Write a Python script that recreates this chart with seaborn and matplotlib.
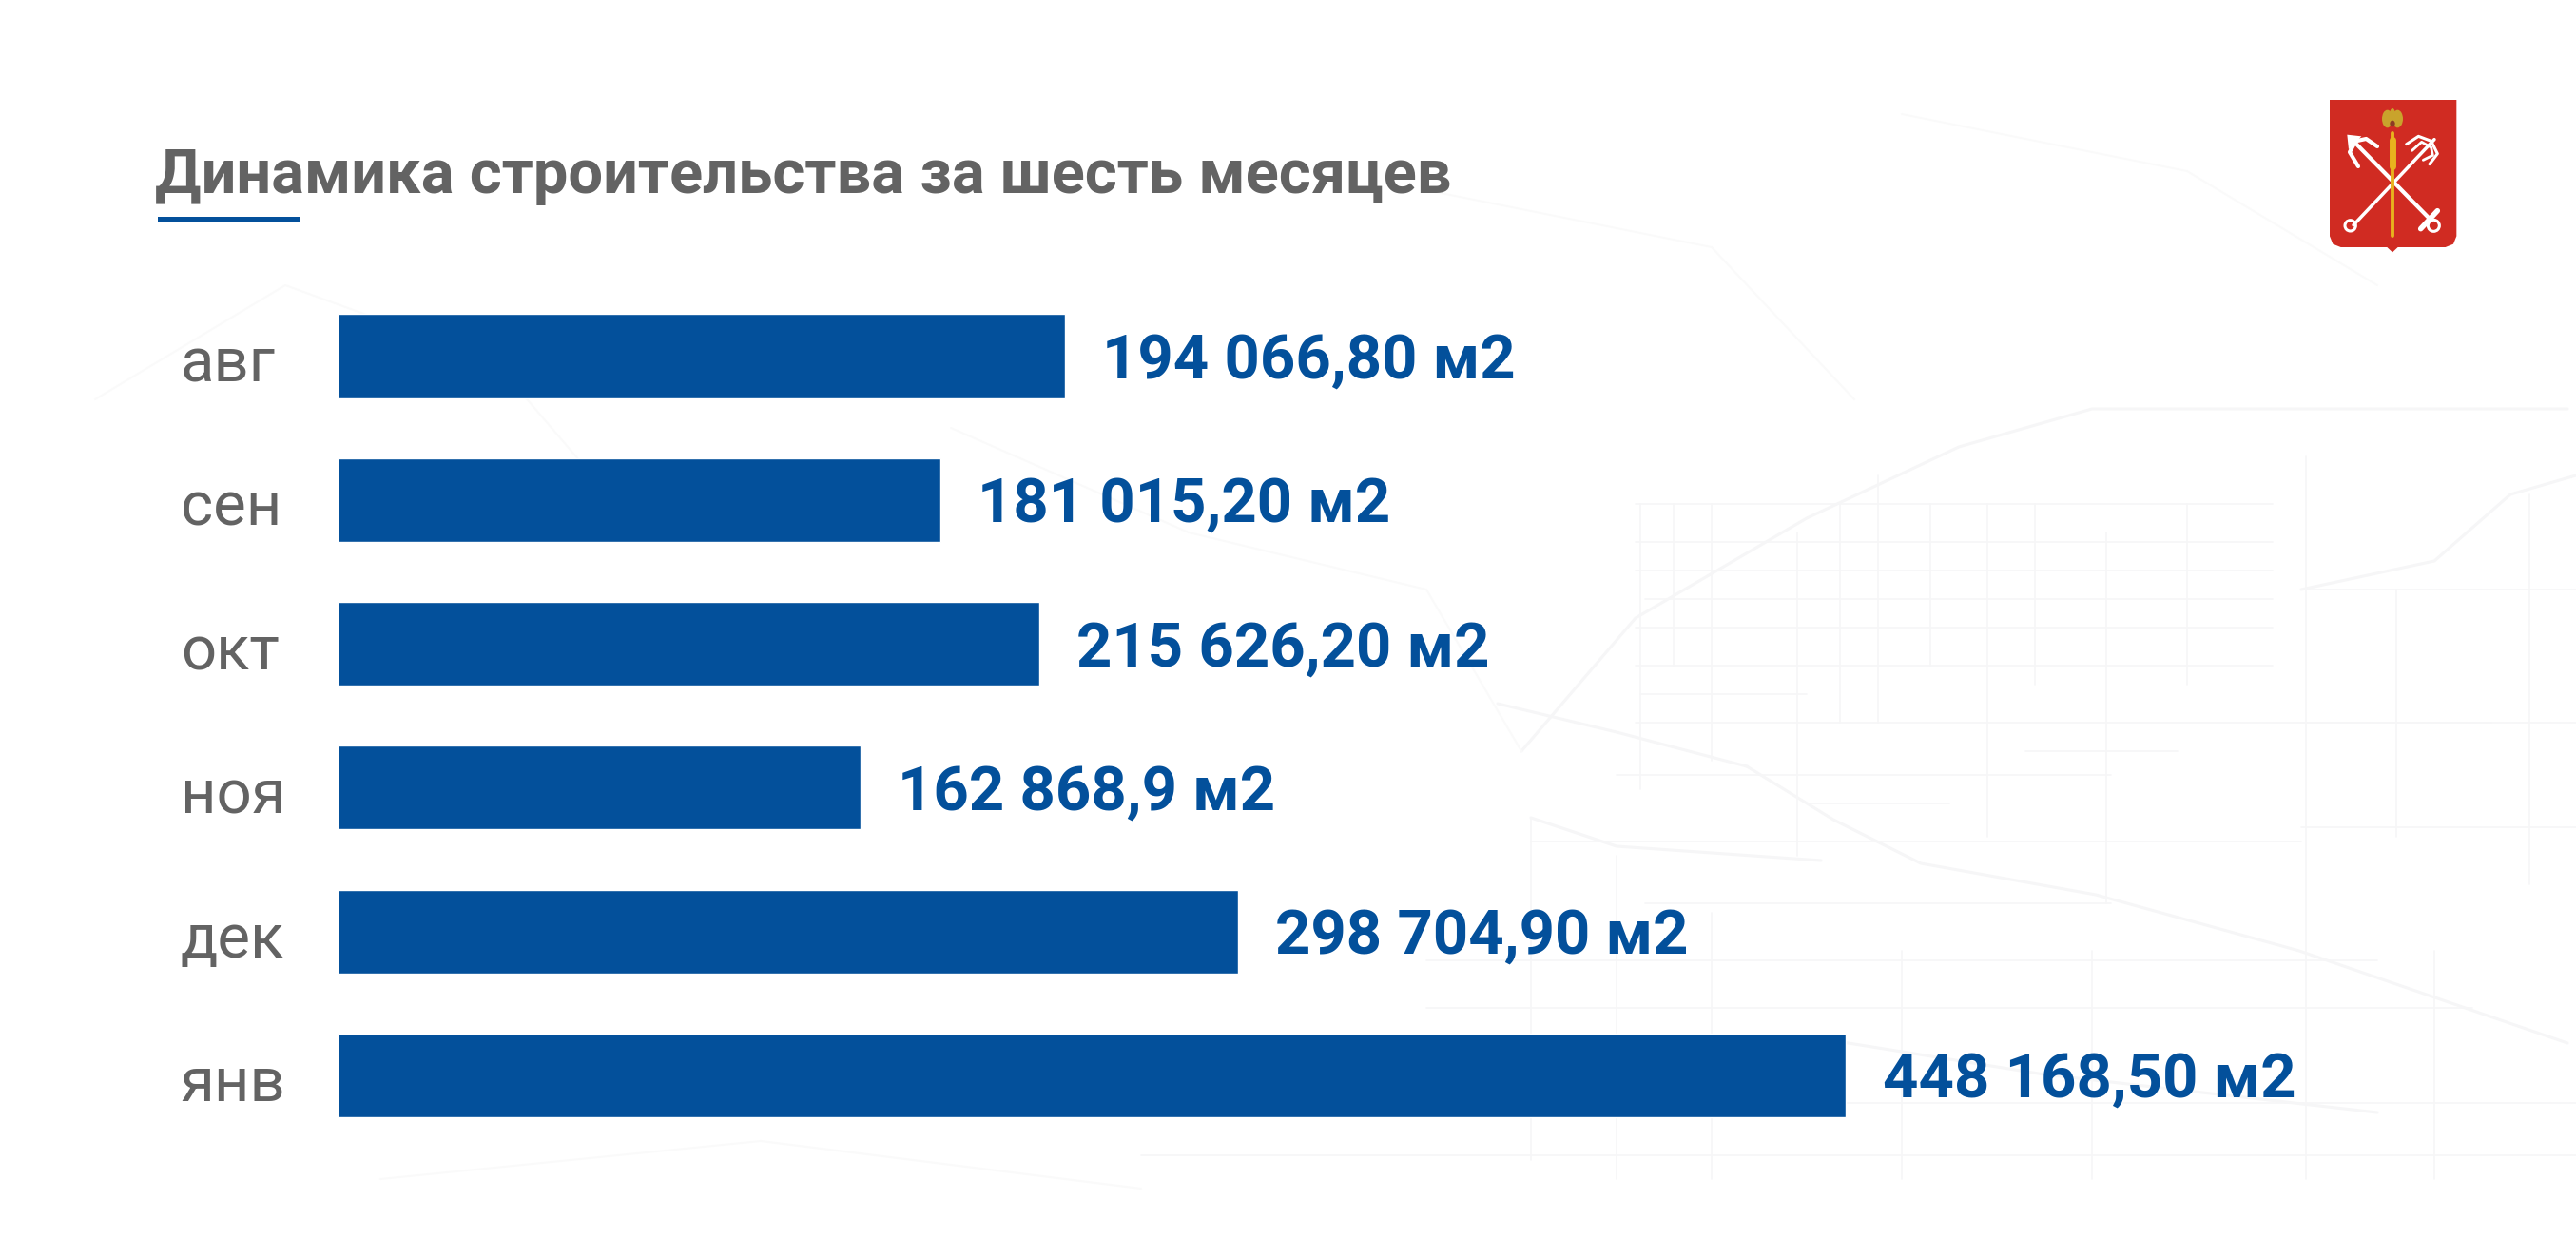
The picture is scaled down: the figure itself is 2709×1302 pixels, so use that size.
import matplotlib
matplotlib.use("Agg")
import matplotlib.pyplot as plt
import matplotlib.patches as patches
from matplotlib.transforms import ScaledTranslation
import pandas as pd
import seaborn as sns

# DATA
months = ["авг", "сен", "окт", "ноя", "дек", "янв"]
# bar lengths as drawn in the picture (they do not follow the printed labels exactly)
bar_lengths = [216200, 179100, 208500, 155400, 267600, 448200]
value_labels = ["194 066,80 м2", "181 015,20 м2", "215 626,20 м2",
                "162 868,9 м2", "298 704,90 м2", "448 168,50 м2"]
title_text = "Динамика строительства за шесть месяцев"

# COLOURS
BLUE = "#03509B"
GREY = "#636363"
MAP = "#F6F6F7"
MAP_FAINT = "#FAFAFA"

# faint street map behind the chart, in picture pixels
map_roads = [
    [(1600, 790), (1720, 650), (1900, 545), (2060, 470), (2200, 430), (2700, 430)],
    [(1837, 806), (1928, 862), (2020, 908), (2204, 941), (2418, 1000), (2700, 1097)],
    [(1575, 740), (1700, 770), (1837, 806)],
    [(1610, 860), (1700, 890), (1915, 905)],
    [(2420, 620), (2560, 590), (2640, 520), (2709, 500)],
    [(1650, 1130), (1900, 1090), (2150, 1130), (2500, 1170)],
]
map_faint = [
    [(100, 420), (300, 300), (520, 380), (640, 520)],
    [(1000, 450), (1250, 560), (1500, 620), (1600, 790)],
    [(1500, 200), (1800, 260), (1950, 420)],
    [(2000, 120), (2300, 180), (2500, 300)],
    [(400, 1240), (800, 1200), (1200, 1250)],
]
map_h = [(1720, 2390, 530), (1720, 2390, 570), (1720, 2390, 600), (1730, 2390, 630),
         (1720, 2390, 660), (1720, 2390, 700), (1720, 2620, 760), (1700, 2220, 815),
         (1610, 2420, 885), (1730, 2220, 950), (2420, 2709, 620), (2420, 2709, 760),
         (2420, 2709, 870), (1500, 2500, 1010), (1500, 2600, 1060), (1200, 2709, 1215),
         (1000, 2709, 1160), (1725, 1900, 730), (1900, 2050, 845), (2130, 2290, 790)]
map_v = [(1725, 530, 830), (1760, 530, 700), (1800, 530, 800), (1890, 560, 900),
         (1935, 530, 760), (1975, 500, 760), (2030, 530, 700), (2090, 530, 880),
         (2140, 530, 720), (2215, 560, 950), (2300, 530, 720), (2425, 480, 1240),
         (2520, 620, 880), (2660, 520, 930), (1610, 860, 1220), (1700, 900, 1240),
         (1800, 960, 1240), (2000, 1000, 1240), (2200, 1000, 1240), (2560, 1000, 1240)]

sns.set_theme(style="white")
plt.rcParams["font.family"] = ["Roboto", "DejaVu Sans"]

fig = plt.figure(figsize=(27.09, 13.02), dpi=100, facecolor="white")
W, H = 2709, 1302

# BACKGROUND LAYER (picture pixels)
bg = fig.add_axes([0, 0, 1, 1], zorder=0)
bg.set_xlim(0, W)
bg.set_ylim(H, 0)
bg.axis("off")
for road in map_roads:
    bg.plot([p[0] for p in road], [p[1] for p in road], color=MAP, lw=2.2)
for road in map_faint:
    bg.plot([p[0] for p in road], [p[1] for p in road], color=MAP_FAINT, lw=1.5)
for x0, x1, y in map_h:
    bg.plot([x0, x1], [y, y], color=MAP, lw=1.2)
for x, y0, y1 in map_v:
    bg.plot([x, x], [y0, y1], color=MAP, lw=1.2)

# TITLE
bg.text(163, 203, title_text, fontsize=46.8, fontweight="bold", color=GREY,
        ha="left", va="baseline")
bg.add_patch(patches.Rectangle((166, 228), 150, 6, color=BLUE, lw=0))

# BARS
df = pd.DataFrame({"month": months, "length": bar_lengths})
pitch = 151.3
top = 374.5 - pitch / 2
ax = fig.add_axes([355 / W, 1 - (top + 6 * pitch) / H, (W - 355) / W, 6 * pitch / H],
                  zorder=1)
ax.patch.set_alpha(0)
sns.barplot(data=df, y="month", x="length", color=BLUE, saturation=1, width=0.582,
            orient="h", ax=ax)
ax.set_xlim(0, (W - 355) / 3.539 * 1000)
ax.set_xlabel("")
ax.set_ylabel("")
ax.set_xticks([])
sns.despine(ax=ax, left=True, bottom=True)
ax.tick_params(axis="y", length=0, pad=119)
label_shift = ScaledTranslation(0, -27 / 100, fig.dpi_scale_trans)
for lab in ax.get_yticklabels():
    lab.set_ha("left")
    lab.set_va("baseline")
    lab.set_fontsize(47)
    lab.set_color(GREY)
    lab.set_transform(lab.get_transform() + label_shift)
texts = ax.bar_label(ax.containers[0], labels=value_labels, padding=28, fontsize=47,
                     fontweight="bold", color=BLUE)
# numbers sit a little lower than the bar centre
for t in texts:
    t.xyann = (t.xyann[0], t.xyann[1] - 4)

# EMBLEM (coordinates inside a 720x600 box)
logo = fig.add_axes([2400 / W, 1 - 280 / H, 240 / W, 200 / H], zorder=2)
logo.set_xlim(0, 720)
logo.set_ylim(600, 0)
logo.axis("off")
logo.add_patch(patches.Polygon([(150, 75), (550, 75), (550, 505), (540, 530), (515, 540),
                                (365, 540), (348, 556), (331, 540), (185, 540),
                                (160, 530), (150, 505)], color="#D02B22", lw=0))
logo.plot([215, 465], [195, 450], color="white", lw=3, solid_capstyle="round")
logo.plot([225, 480], [470, 200], color="white", lw=2.5, solid_capstyle="round")
logo.plot([437, 490], [482, 425], color="white", lw=4)
logo.add_patch(patches.Circle((215, 472), 17, fc="none", ec="white", lw=2.2))
logo.add_patch(patches.Circle((478, 472), 18, fc="none", ec="white", lw=2.2))
# left anchor head
logo.add_patch(patches.Polygon([(205, 185), (250, 190), (210, 232)], color="white", lw=0))
logo.plot([300, 265, 232, 213, 240], [222, 198, 205, 240, 285], color="white", lw=3)
# right hook with tines
logo.plot([392, 430, 470, 490, 465], [215, 190, 205, 245, 278], color="white", lw=2.2)
logo.plot([410, 440, 470, 475, 445], [235, 208, 225, 250, 265], color="white", lw=2)
# sceptre and eagle
logo.plot([348, 348], [180, 505], color="#E8B21E", lw=2.8, solid_capstyle="round")
logo.plot([348, 348], [200, 285], color="#E8B21E", lw=5)
logo.add_patch(patches.Ellipse((332, 135), 34, 56, color="#C9A32C", lw=0))
logo.add_patch(patches.Ellipse((364, 135), 34, 56, color="#C9A32C", lw=0))
logo.add_patch(patches.Ellipse((348, 122), 18, 40, color="#C9A32C", lw=0))
logo.add_patch(patches.Ellipse((348, 150), 16, 20, color="#8C3A25", lw=0))

fig.savefig("out.png", dpi=100, facecolor="white")
